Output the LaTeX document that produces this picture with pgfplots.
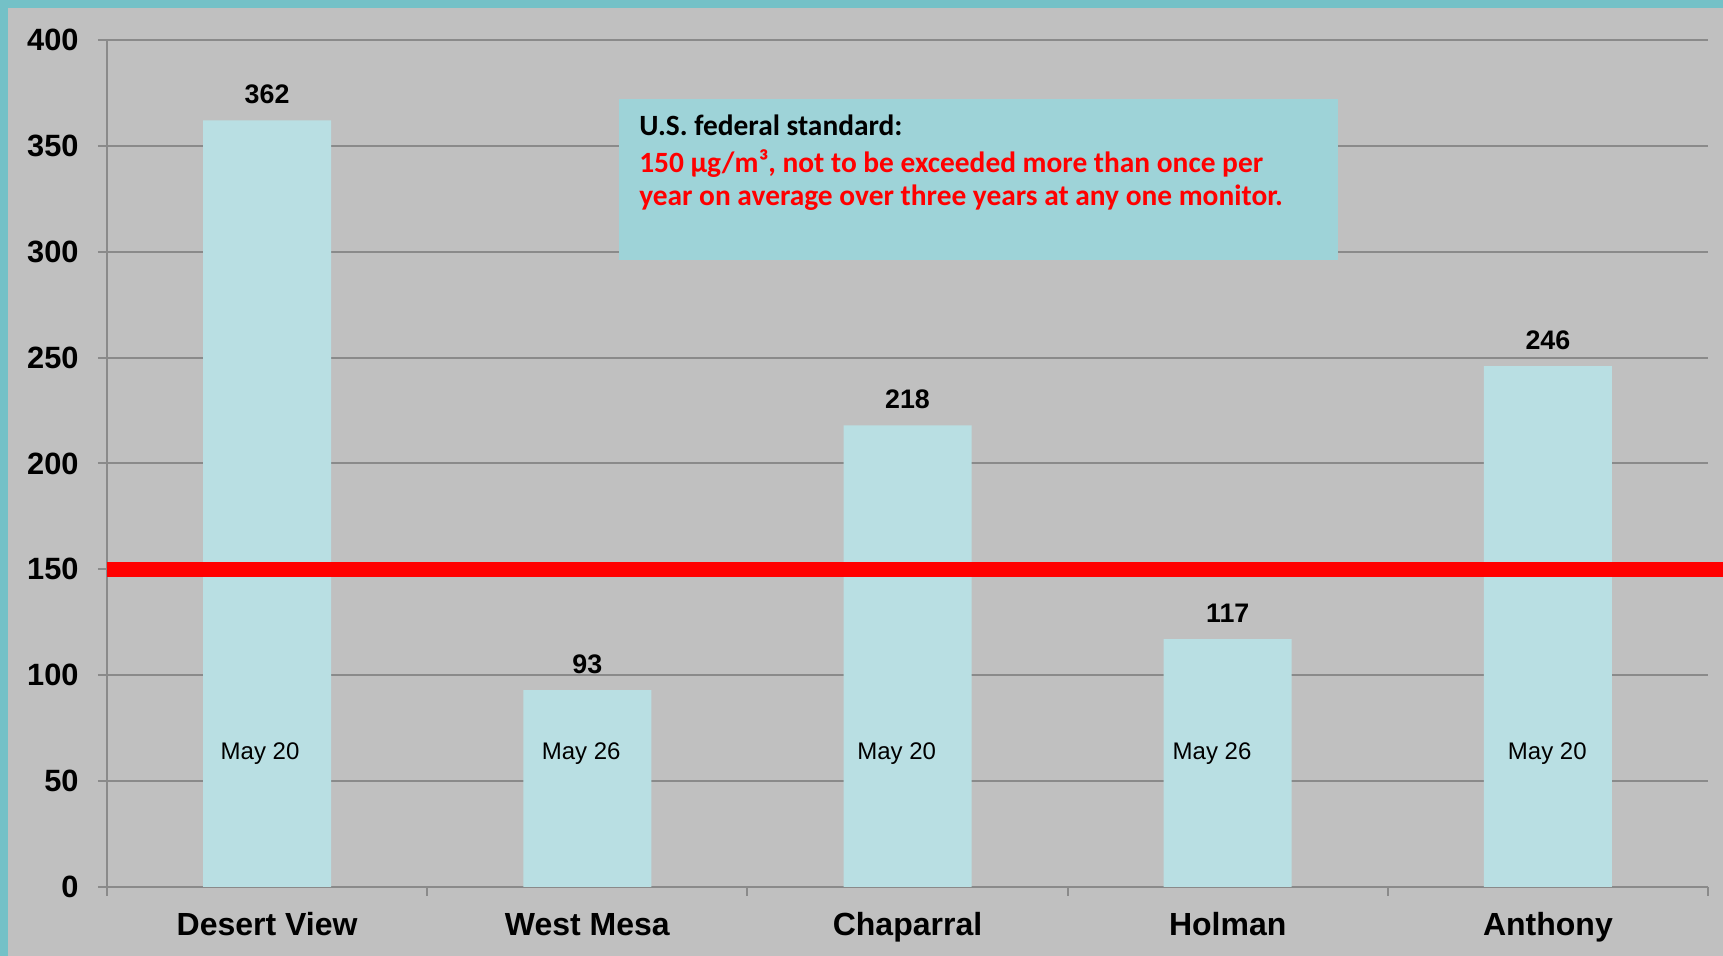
\documentclass[border=0pt]{standalone}
\usepackage{pgfplots}
\pgfplotsset{compat=1.18}
\usepackage{fontspec}
\setmainfont{Liberation Sans}
\newfontfamily\carlito{Carlito}
\definecolor{bgteal}{HTML}{74C1C7}
\definecolor{bggray}{HTML}{C0C0C0}
\definecolor{barcol}{HTML}{B9DFE3}
\definecolor{boxcol}{HTML}{9ED3D8}
\definecolor{gridcol}{HTML}{8A8A8A}
\definecolor{stdred}{HTML}{FF0000}
\begin{document}
\begin{tikzpicture}
\fill[bgteal] (0,0) rectangle (861.5pt,478pt);
\fill[bggray] (4pt,0) rectangle (861.5pt,474pt);
\path[use as bounding box] (0,0) rectangle (861.5pt,478pt);
\begin{axis}[
  at={(53.5pt,34.5pt)}, anchor=south west,
  scale only axis, width=800.5pt, height=423.5pt,
  xmin=-0.5, xmax=4.5, ymin=0, ymax=400,
  axis x line*=bottom, axis y line*=left,
  axis line style={gridcol, line width=1pt},
  clip=false,
  /pgf/number format/assume math mode=true,
  ytick={0,50,...,400},
  ymajorgrids, grid style={gridcol, line width=1pt},
  tick align=outside, major tick length=4.5pt, minor tick length=4.5pt,
  ytick style={gridcol, line width=1pt},
  xtick={0,1,2,3,4},
  xticklabels={Desert View, West Mesa, Chaparral, Holman, Anthony},
  major x tick style={draw=none},
  minor xtick={-0.5,0.5,1.5,2.5,3.5,4.5},
  minor x tick style={gridcol, line width=1pt},
  yticklabel style={font=\bfseries\fontsize{15.4}{18}\selectfont, anchor=east, inner sep=0pt, xshift=-9.5pt},
  xticklabel style={font=\bfseries\fontsize{16}{18}\selectfont, anchor=base, inner sep=0pt, yshift=-20pt},
]
\addplot[ybar, bar width=64pt, fill=barcol, draw=none,
  nodes near coords,
  nodes near coords style={font=\bfseries\fontsize{13.4}{15}\selectfont, anchor=base, inner sep=0pt, yshift=8.4pt}]
  coordinates {(0,362) (1,93) (2,218) (3,117) (4,246)};
\addplot[stdred, line width=7.5pt, no marks] coordinates {(-0.5,150) (4.547,150)};
\fill[boxcol] (axis cs:1.099,296.1) rectangle (axis cs:3.345,372.1);
\begin{scope}[every node/.style={anchor=base west, inner sep=0pt, font=\carlito\bfseries\fontsize{14.7}{17}\selectfont}]
\node at (axis cs:1.161,354.7) {U.S. federal standard:};
\node[text=stdred] at (axis cs:1.161,337.4) {150 μg/m³, not to be exceeded more than once per};
\node[text=stdred] at (axis cs:1.161,321.6) {year on average over three years at any one monitor.};
\end{scope}
\begin{scope}[every node/.style={anchor=base, inner sep=0pt, font=\fontsize{12}{14}\selectfont}]
\node at (axis cs:-0.022,60.4) {May 20};
\node at (axis cs:0.981,60.4) {May 26};
\node at (axis cs:1.966,60.4) {May 20};
\node at (axis cs:2.951,60.4) {May 26};
\node at (axis cs:3.998,60.4) {May 20};
\end{scope}
\end{axis}
\end{tikzpicture}
\end{document}
